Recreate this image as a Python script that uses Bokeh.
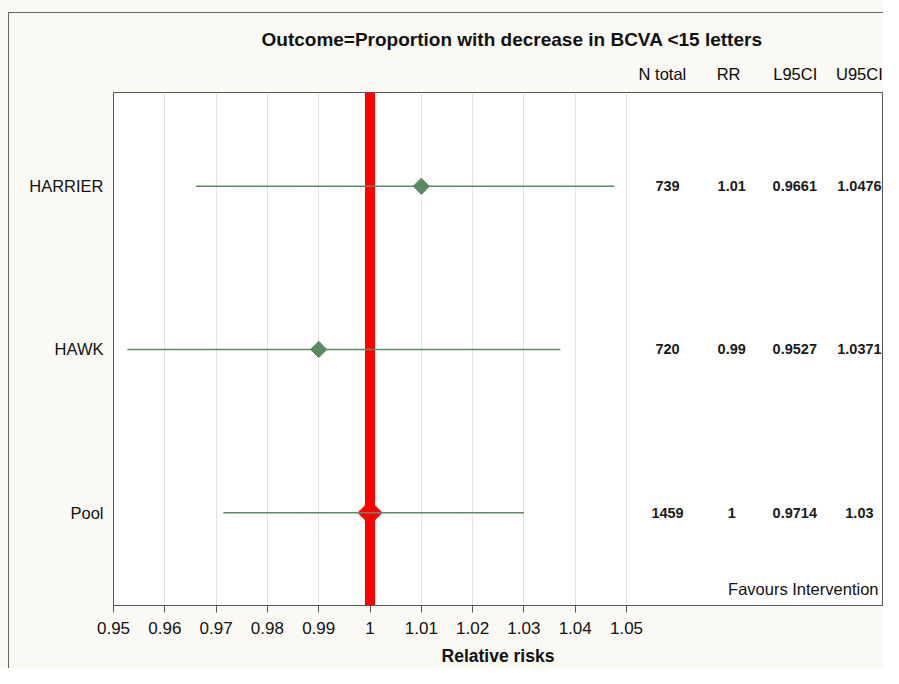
from bokeh.plotting import figure
from bokeh.models import Range1d, FixedTicker, Label, Span, LinearAxis
from bokeh.embed import file_html
from bokeh.resources import INLINE
from bokeh.core.properties import value

# ---- data ----
studies = ["HARRIER", "HAWK", "Pool"]
study_pos = [3, 2, 1]
n_total = ["739", "720", "1459"]
rr = [1.01, 0.99, 1.0]
rr_text = ["1.01", "0.99", "1"]
l95 = [0.9661, 0.9527, 0.9714]
l95_text = ["0.9661", "0.9527", "0.9714"]
u95 = [1.0476, 1.0371, 1.03]
u95_text = ["1.0476", "1.0371", "1.03"]
x_ticks = [0.95, 0.96, 0.97, 0.98, 0.99, 1.0, 1.01, 1.02, 1.03, 1.04, 1.05]
x_tick_labels = ["0.95", "0.96", "0.97", "0.98", "0.99", "1", "1.01", "1.02", "1.03", "1.04", "1.05"]
col_headers = ["N total", "RR", "L95CI", "U95CI"]
ref_value = 1.0

# ---- layout / style ----
FONT = "Liberation Sans"
BG = "#FBF9F3"
GREEN = "#5B8A62"
TXT = "#111111"
header_x = [1.0570, 1.0699, 1.0829, 1.0954]
col_x = [1.0580, 1.0705, 1.0828, 1.0954]

p = figure(width=883, height=668, output_backend="svg", toolbar_location=None,
           x_range=Range1d(0.95, 1.0999), y_range=Range1d(0.431, 3.575),
           min_border_left=113, min_border_right=1, min_border_top=92, min_border_bottom=62,
           title="Outcome=Proportion with decrease in BCVA <15 letters")
p.background_fill_color = "white"
p.border_fill_color = BG
p.border_fill_alpha = 0.0
p.styles = {
    "background-color": BG,
    "background-image": "linear-gradient(#666666,#666666), linear-gradient(#666666,#666666)",
    "background-size": "1px 100%, 100% 1px",
    "background-position": "8px 12px, 8px 12px",
    "background-repeat": "no-repeat",
}
p.outline_line_color = "#555555"
p.outline_line_width = 1

p.title.align = "left"
p.title.offset = 148
p.title.text_font = FONT
p.title.text_font_size = "19px"
p.title.text_font_style = "bold"
p.title.text_color = TXT
p.title.standoff = 24

# bottom axis
ax = p.below[0]
ax.ticker = FixedTicker(ticks=x_ticks)
ax.major_label_overrides = {t: l for t, l in zip(x_ticks, x_tick_labels)}
ax.axis_label = "Relative risks"
ax.axis_label_text_font = FONT
ax.axis_label_text_font_style = "bold"
ax.axis_label_text_font_size = "17.5px"
ax.axis_label_text_color = TXT
ax.axis_label_standoff = 9
ax.major_label_text_font = FONT
ax.major_label_text_font_size = "17px"
ax.major_label_text_color = TXT
ax.major_label_standoff = 9
ax.major_tick_in = 0
ax.major_tick_out = 7
ax.minor_tick_line_color = None
ax.axis_line_color = "#555555"
ax.major_tick_line_color = "#555555"

# header axis (column titles of the table)
hdr = LinearAxis(ticker=FixedTicker(ticks=header_x),
                 major_label_overrides={x: h for x, h in zip(header_x, col_headers)})
hdr.axis_line_color = None
hdr.major_tick_line_color = None
hdr.minor_tick_line_color = None
hdr.major_tick_in = 0
hdr.major_tick_out = 0
hdr.major_label_text_font = FONT
hdr.major_label_text_font_size = "16.5px"
hdr.major_label_text_color = "#0a0a0a"
hdr.major_label_standoff = 10
p.add_layout(hdr, "above")

yax = p.left[0]
yax.ticker = FixedTicker(ticks=study_pos)
yax.major_label_overrides = {float(k): s for k, s in zip(study_pos, studies)}
yax.major_label_text_font = FONT
yax.major_label_text_font_size = "16.5px"
yax.major_label_text_color = TXT
yax.major_label_standoff = 10
yax.major_tick_in = 0
yax.major_tick_out = 0
yax.major_tick_line_color = None
yax.minor_tick_line_color = None
yax.axis_line_color = "#555555"

p.xgrid.grid_line_color = "#E4E4DA"
p.xgrid.grid_line_width = 1
p.ygrid.grid_line_color = None

# reference line
p.add_layout(Span(location=ref_value, dimension="height", line_color="#FF0000",
                  line_width=10, level="underlay"))

# diamonds
p.scatter(x=rr[:2], y=study_pos[:2], marker="square", angle=0.785398, size=11.5,
          fill_color=GREEN, line_color=GREEN)
p.scatter(x=rr[2:], y=study_pos[2:], marker="square", angle=0.785398, size=17,
          fill_color="#FF0000", line_color="#FF0000")
# CIs
p.segment(x0=l95, x1=u95, y0=study_pos, y1=study_pos, line_color=GREEN, line_width=1.5)

# table values
cols = [n_total, rr_text, l95_text, u95_text]
for cx, vals in zip(col_x, cols):
    p.text(x=[cx] * len(vals), y=study_pos, text=vals, text_align="center",
           text_baseline="middle", text_font=value(FONT), text_font_size="14.5px",
           text_font_style="bold", text_color="#1a1a1a")

p.add_layout(Label(x=878, y=588, x_units="canvas", y_units="canvas",
                   text="Favours Intervention", text_align="right",
                   text_baseline="middle", text_font=FONT, text_font_size="16.5px",
                   text_color=TXT))

open("out.html", "w").write(file_html(p, INLINE))
